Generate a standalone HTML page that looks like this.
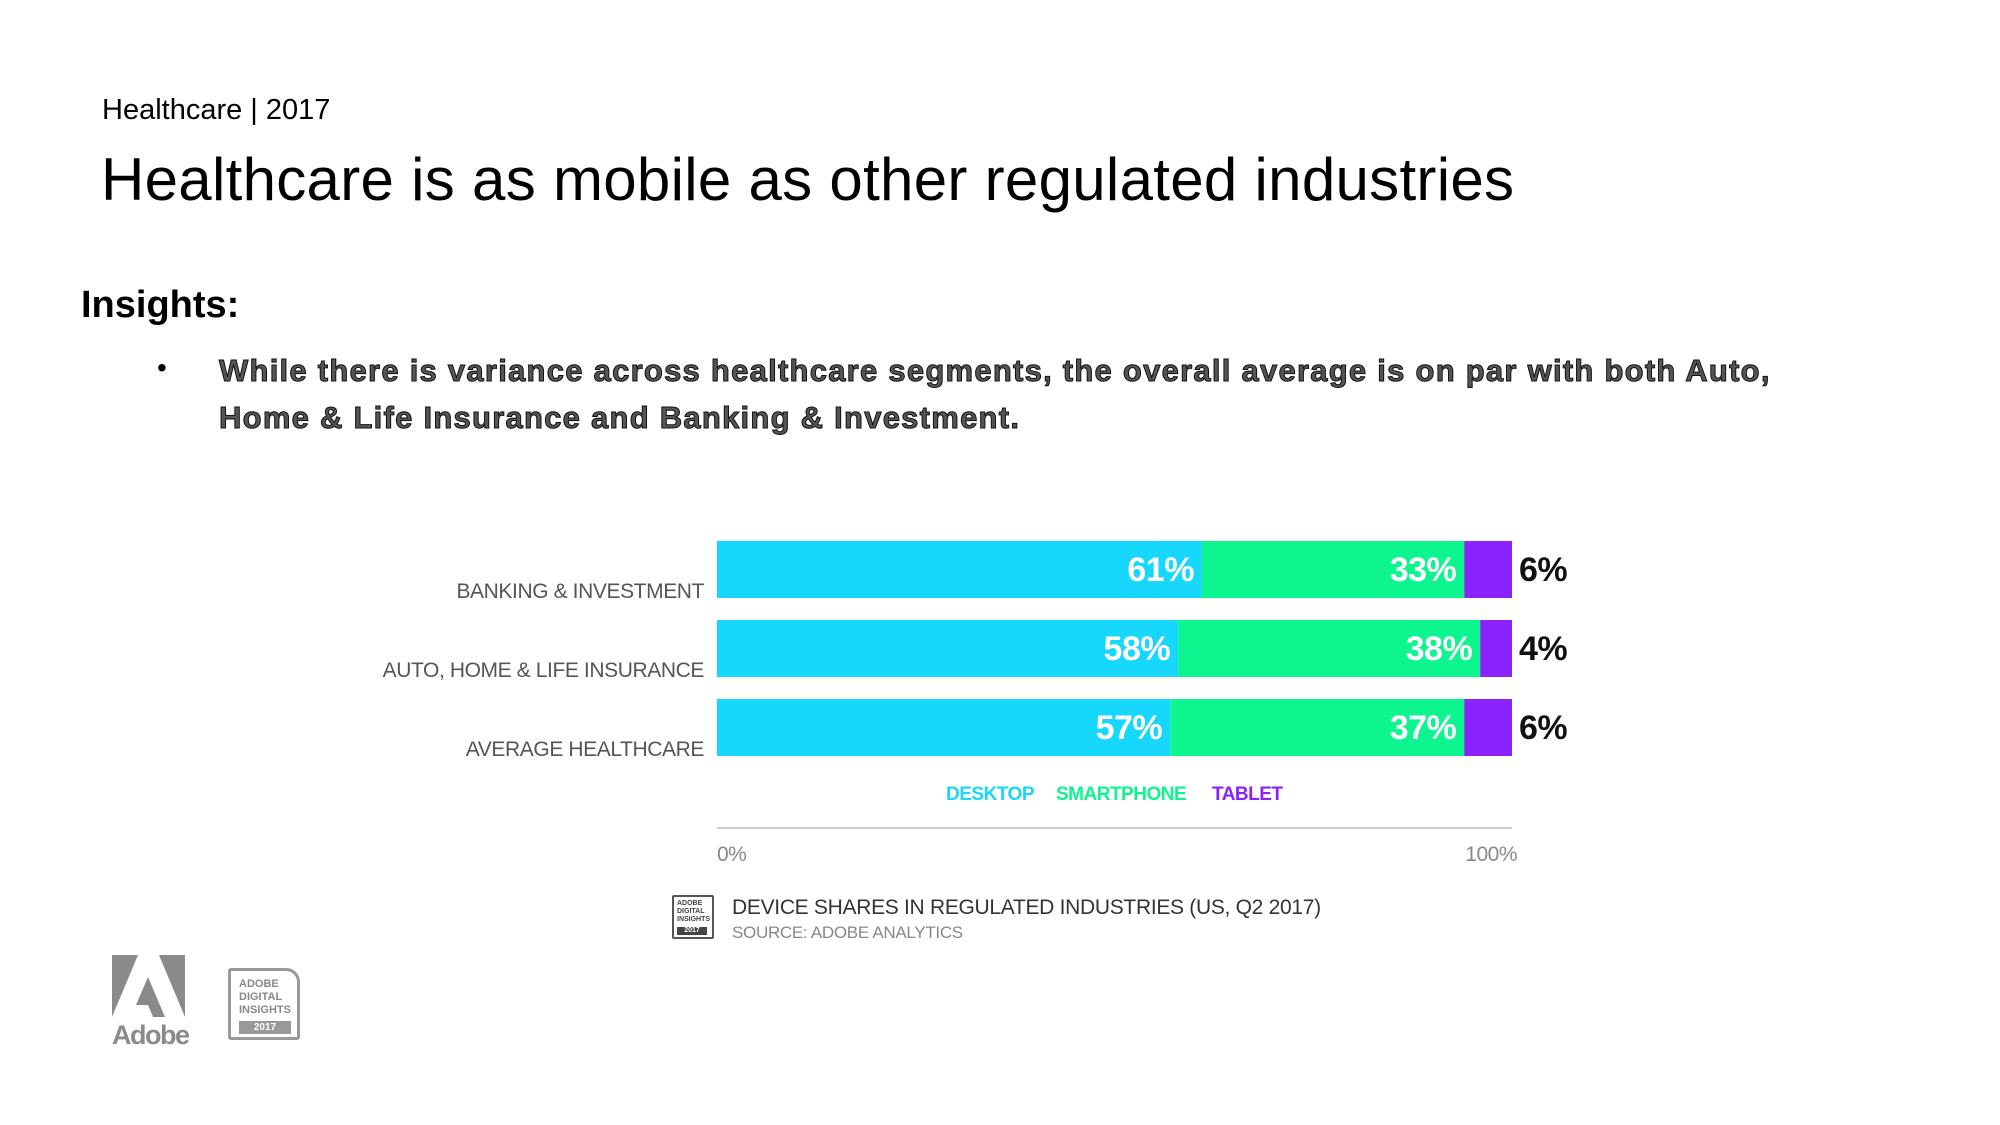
<!DOCTYPE html>
<html><head><meta charset="utf-8"><style>
body{margin:0;width:2000px;height:1125px;background:#fff;position:relative;overflow:hidden;font-family:"Liberation Sans",sans-serif;}
.a{position:absolute;white-space:nowrap;}
</style></head><body>
<div class="a" style="left:102px;top:94px;font-size:29px;color:#000;">Healthcare | 2017</div>
<div class="a" style="left:101px;top:145px;font-size:60px;color:#000;letter-spacing:0.3px;">Healthcare is as mobile as other regulated industries</div>
<div class="a" style="left:81px;top:284px;font-size:38px;font-weight:bold;color:#000;">Insights:</div>
<div class="a" style="left:157px;top:352px;font-size:28px;color:#000;">•</div>
<div class="a" style="left:219px;top:347px;font-size:31px;font-weight:bold;color:#555;-webkit-text-stroke:1px #111;line-height:47px;letter-spacing:1.25px;">While there is variance across healthcare segments, the overall average is on par with both Auto,<br>Home &amp; Life Insurance and Banking &amp; Investment.</div>

<svg id="chart" width="2000" height="1125" style="position:absolute;left:0;top:0;" font-family="Liberation Sans, sans-serif"></svg>

<div class="a" style="left:946px;top:784px;font-size:19px;font-weight:bold;color:#17d7fd;letter-spacing:-0.5px;">DESKTOP</div>
<div class="a" style="left:1056px;top:784px;font-size:19px;font-weight:bold;color:#0cf58f;letter-spacing:-0.5px;">SMARTPHONE</div>
<div class="a" style="left:1212px;top:784px;font-size:19px;font-weight:bold;color:#8a22fb;letter-spacing:-0.5px;">TABLET</div>

<div class="a" style="left:672px;top:895px;width:42px;height:44px;border:2px solid #555;border-radius:2px;font-size:7px;font-weight:bold;color:#444;line-height:8px;padding:3px 0 0 3px;box-sizing:border-box;">ADOBE<br>DIGITAL<br>INSIGHTS<div style="background:#444;color:#fff;margin-top:3px;width:30px;text-align:center;">2017</div></div>
<div class="a" style="left:732px;top:896px;font-size:21px;color:#333;letter-spacing:-0.3px;">DEVICE SHARES IN REGULATED INDUSTRIES (US, Q2 2017)</div>
<div class="a" style="left:732px;top:923px;font-size:17px;color:#888;letter-spacing:-0.3px;">SOURCE: ADOBE ANALYTICS</div>

<svg class="a" style="left:112px;top:955px;" width="74" height="64"><polygon points="0,0 26,0 0,62" fill="#8a8a8a"/><polygon points="47,0 73,0 73,62" fill="#8a8a8a"/><polygon points="36,22 53,62 41,62 36,50 24,50" fill="#8a8a8a"/></svg>
<div class="a" style="left:112px;top:1020px;font-size:27px;font-weight:bold;color:#8a8a8a;letter-spacing:-1.5px;">Adobe</div>
<div class="a" style="left:228px;top:968px;width:72px;height:72px;border:3px solid #999;border-radius:3px 14px 3px 3px;box-sizing:border-box;font-size:11px;font-weight:bold;color:#888;line-height:13px;padding:7px 0 0 8px;">ADOBE<br>DIGITAL<br>INSIGHTS<div style="background:#999;color:#fff;margin-top:4px;width:52px;text-align:center;font-size:10px;">2017</div></div>

<script>
const categories = ["BANKING & INVESTMENT","AUTO, HOME & LIFE INSURANCE","AVERAGE HEALTHCARE"];
const desktop = [61,58,57];
const smartphone = [33,38,37];
const tablet = [6,4,6];
const tickLabels = ["0%","100%"];
const svg = document.getElementById('chart');
const NS = 'http://www.w3.org/2000/svg';
const x0 = 717, x1 = 1512, yTop = 541, pitch = 79, barH = 57;
const xs = v => x0 + (x1 - x0) * v / 100;
const yb = i => yTop + i * pitch;
function mk(tag, attrs, txt){const e=document.createElementNS(NS,tag);for(const k in attrs)e.setAttribute(k,attrs[k]);if(txt!==undefined)e.textContent=txt;svg.appendChild(e);return e;}
const series=[{n:'desktop',d:desktop,c:'#17d7fd'},{n:'smartphone',d:smartphone,c:'#0cf58f'},{n:'tablet',d:tablet,c:'#8a22fb'}];
categories.forEach((cat,i)=>{
  const lab = mk('text',{x:704,y:yb(i)+57,'text-anchor':'end','font-size':21,'letter-spacing':'-0.4',fill:'#555'},cat);
  
  
  let cum=0;
  series.forEach((s,j)=>{
    const v=s.d[i];
    const r=mk('rect',{x:xs(cum),y:yb(i),width:xs(cum+v)-xs(cum),height:barH,fill:s.c});
    
    
    cum+=v;
    let t;
    if(j<2){t=mk('text',{x:xs(cum)-8,y:yb(i)+40,'text-anchor':'end','font-size':34,'font-weight':'bold','letter-spacing':'-0.5',fill:'#fff'},v+'%');}
    else{t=mk('text',{x:x1+7,y:yb(i)+40,'font-size':34,'font-weight':'bold','letter-spacing':'-0.5',fill:'#111'},v+'%');}
    
    
  });
});
const ax=mk('line',{x1:x0,x2:x1,y1:828,y2:828,stroke:'#ccc','stroke-width':2});


tickLabels.forEach((t,k)=>{
  const e=mk('text',{x:k?x1+5:x0,y:861,'text-anchor':k?'end':'start','font-size':21,'letter-spacing':'-0.5',fill:'#888'},t);
  
  
});
</script>
</body></html>
